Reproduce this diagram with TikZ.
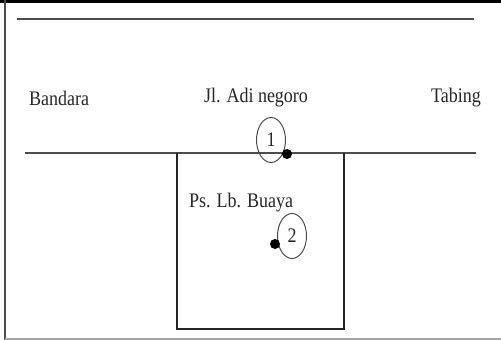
\documentclass[tikz,border=0pt]{standalone}
\usepackage{fontspec}
\setmainfont{Liberation Serif}
\usetikzlibrary{shapes.geometric}
\begin{document}
\begin{tikzpicture}[x=1pt,y=-1pt,
  road/.style={draw=black!70,line width=1.8pt},
  edge/.style={draw=black!85,line width=1.1pt},
  lbl/.style={font=\fontsize{18}{20}\selectfont,text=black!85,inner sep=0pt,yscale=1.15,transform shape},
  marker/.style={draw=black!70,line width=1pt,ellipse,minimum width=29pt,minimum height=45pt,inner sep=0pt},
  spot/.style={fill=black,circle,inner sep=0pt,minimum size=10pt}]
  \useasboundingbox (0,0) rectangle (501,340);
  % outer frame
  \fill[white] (0,0) rectangle (501,340);
  \draw[black,line width=3pt] (0,1.5) -- (501,1.5);
  \draw[black!70,line width=2pt] (5,0) -- (5,340);
  \draw[black!35,line width=1.2pt] (5,339) -- (501,339);
  % roads
  \coordinate (ta) at (17,19);
  \coordinate (tb) at (474,19);
  \draw[road] (ta) -- (tb);
  \coordinate (ra) at (25,153);
  \coordinate (rb) at (476,153);
  \draw[road] (ra) -- (rb);
  % market block
  \coordinate (ma) at (177,153);
  \coordinate (mb) at (344,153);
  \coordinate (mc) at (344,329);
  \coordinate (md) at (177,329);
  \draw[edge] (ma) -- (md) -- (mc) -- (mb);
  % labels
  \node[lbl] (bandara) at (59,98) {Bandara};
  \node[lbl] (jalan) at (256,98) {Jl. Adi negoro};
  \node[lbl] (tabing) at (456,98) {Tabing};
  \node[lbl,anchor=west] (pasar) at (189,203) {Ps. Lb. Buaya};
  % numbered markers
  \node[marker] (m1) at (271,140) {};
  \node[lbl] (n1) at (m1) {1};
  \node[spot] (s1) at (287,154) {};
  \node[marker] (m2) at (292,236) {};
  \node[lbl] (n2) at (m2) {2};
  \node[spot] (s2) at (275,244) {};
\end{tikzpicture}
\end{document}
